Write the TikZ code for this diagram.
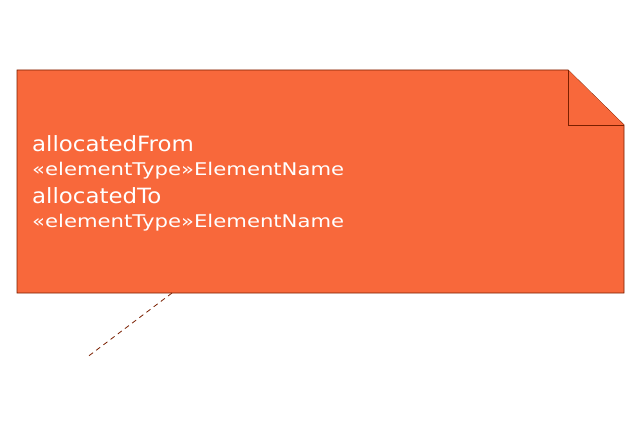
\documentclass[tikz,border=0pt]{standalone}
\usepackage{fontspec}
\setmainfont{DejaVu Sans}
\newfontfamily\bigfont[FakeStretch=1.09]{DejaVu Sans}
\newfontfamily\smallfont[FakeStretch=1.21]{DejaVu Sans}
\definecolor{notefill}{HTML}{F8683B}
\definecolor{noteline}{HTML}{7A1F00}
\tikzset{
  notebody/.style={fill=notefill, draw=noteline, line width=0.8pt, line join=miter},
  fold/.style={draw=noteline, line width=0.8pt, fill=notefill},
  anchorline/.style={draw=noteline, line width=0.8pt, dash pattern=on 5pt off 4pt},
  big/.style={text=white, anchor=base west, inner sep=0pt, font=\bigfont\fontsize{21}{24}\selectfont},
  small/.style={text=white, anchor=base west, inner sep=0pt, font=\smallfont\fontsize{17.5}{20}\selectfont}
}
\begin{document}
\begin{tikzpicture}[x=1pt,y=-1pt]
\useasboundingbox (0,0) rectangle (640,422);
\path[notebody] (17,70) -- (568,70) -- (624,125) -- (624,293) -- (17,293) -- cycle;
\path[fold] (568,70) -- (568,125) -- (624,125);
\coordinate (n) at (172,293);
\coordinate (e) at (86,358);
\draw[anchorline] (n) -- (e);
\node[big] (t1) at (32,152) {allocatedFrom};
\node[small] (t2) at (32,176) {«elementType»ElementName};
\node[big] (t3) at (32,204) {allocatedTo};
\node[small] (t4) at (32,228) {«elementType»ElementName};
\end{tikzpicture}
\end{document}
